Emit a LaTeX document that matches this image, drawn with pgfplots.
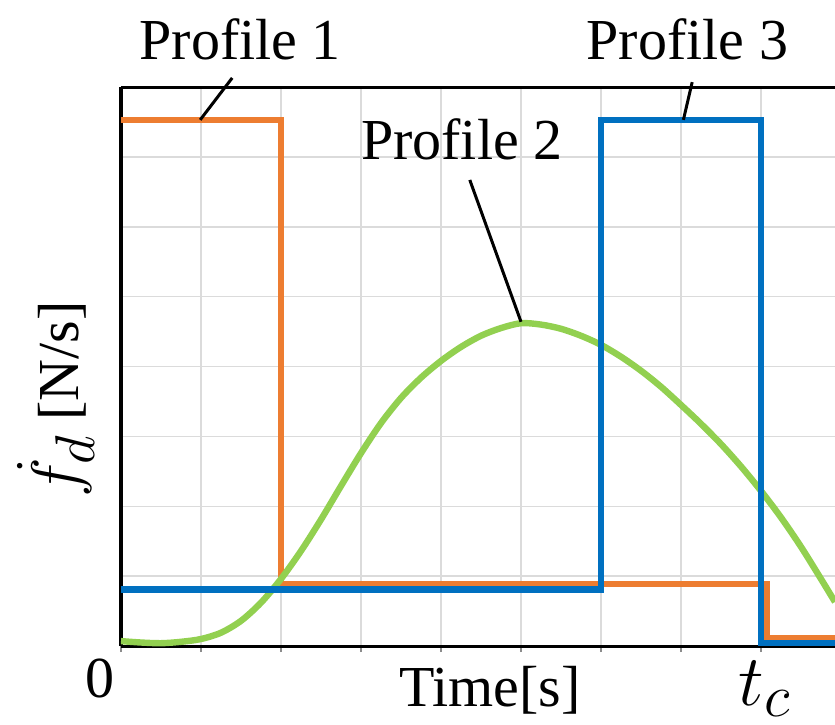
\documentclass[border=0pt]{standalone}
\usepackage{graphicx}
\usepackage{pgfplots}
\pgfplotsset{compat=1.18}
\usepackage{fontspec}
\setmainfont{Liberation Serif}
\definecolor{pOrange}{HTML}{ED7D31}
\definecolor{pBlue}{HTML}{0070C0}
\definecolor{pGreen}{HTML}{92D050}
\begin{document}
\fontsize{29}{34}\selectfont
\begin{tikzpicture}
\useasboundingbox (-60.5pt,-39pt) rectangle (357pt,323pt);
\begin{axis}[
  scale only axis, width=357pt, height=279.5pt,
  xmin=0, xmax=8.925, ymin=0, ymax=8,
  xtick={0,1,...,8}, ytick={0,1,...,8},
  xticklabels={}, yticklabels={},
  grid=major,
  major grid style={draw=black!14, line width=0.75pt},
  axis x line*=bottom, axis y line*=left,
  x axis line style={black, line width=1.5pt, -},
  y axis line style={black, line width=2pt, -},
  tick align=outside, major tick length=3pt,
  x tick style={black!45, line width=0.75pt},
  y tick style={draw=none},
  clip=false,
]
% top frame
\draw[black, line width=1.5pt] (axis cs:0,8) -- (axis cs:8.925,8);
% Profile 1 (orange)
\addplot[pOrange, line width=3.1pt] coordinates {
 (0,7.53) (2.0,7.53) (2.0,0.89) (8.08,0.89) (8.08,0.11) (8.925,0.11)
};
% Profile 2 (green)
\addplot[pGreen, line width=3.2pt, smooth] coordinates {
 (0,0.07) (0.25,0.05) (0.5,0.04) (0.75,0.06) (1.0,0.10) (1.25,0.19) (1.5,0.36) (1.75,0.62)
 (2.0,0.96) (2.25,1.36) (2.5,1.81) (2.75,2.29) (3.0,2.76) (3.25,3.19) (3.5,3.55) (3.75,3.84)
 (4.0,4.08) (4.25,4.28) (4.5,4.44) (4.75,4.55) (5.0,4.62) (5.25,4.60) (5.5,4.54) (5.75,4.44)
 (6.0,4.31) (6.25,4.14) (6.5,3.94) (6.75,3.71) (7.0,3.45) (7.25,3.18) (7.5,2.89) (7.75,2.57)
 (8.0,2.22) (8.25,1.84) (8.5,1.42) (8.75,0.96) (8.925,0.63)
};
% Profile 3 (blue)
\addplot[pBlue, line width=3.1pt] coordinates {
 (0,0.81) (6.0,0.81) (6.0,7.53) (8.0,7.53) (8.0,0.04) (8.925,0.04)
};
% annotations
\draw[black, line width=1.5pt] (axis cs:0.99,7.53) -- (axis cs:1.39,8.13);
\draw[black, line width=1.5pt] (axis cs:5.0,4.64) -- (axis cs:4.36,6.67);
\draw[black, line width=1.5pt] (axis cs:7.03,7.53) -- (axis cs:7.14,8.07);
\node[anchor=base] at (axis cs:1.49,8.40) {Profile 1};
\node[anchor=base] at (axis cs:4.26,6.96) {Profile 2};
\node[anchor=base] at (axis cs:7.08,8.40) {Profile 3};
\node[anchor=base] at (axis cs:4.61,-0.87) {Time[s]};
\node[anchor=base] at (axis cs:-0.26,-0.73) {0};
\node[anchor=base] at (axis cs:8.05,-0.85) {\scalebox{1.45}{$t_c$}};
\node[rotate=90, anchor=base] at (axis cs:-0.525,3.53) {\scalebox{1.35}{$\dot{f}_d$} [N/s]};
\end{axis}
\end{tikzpicture}
\end{document}
